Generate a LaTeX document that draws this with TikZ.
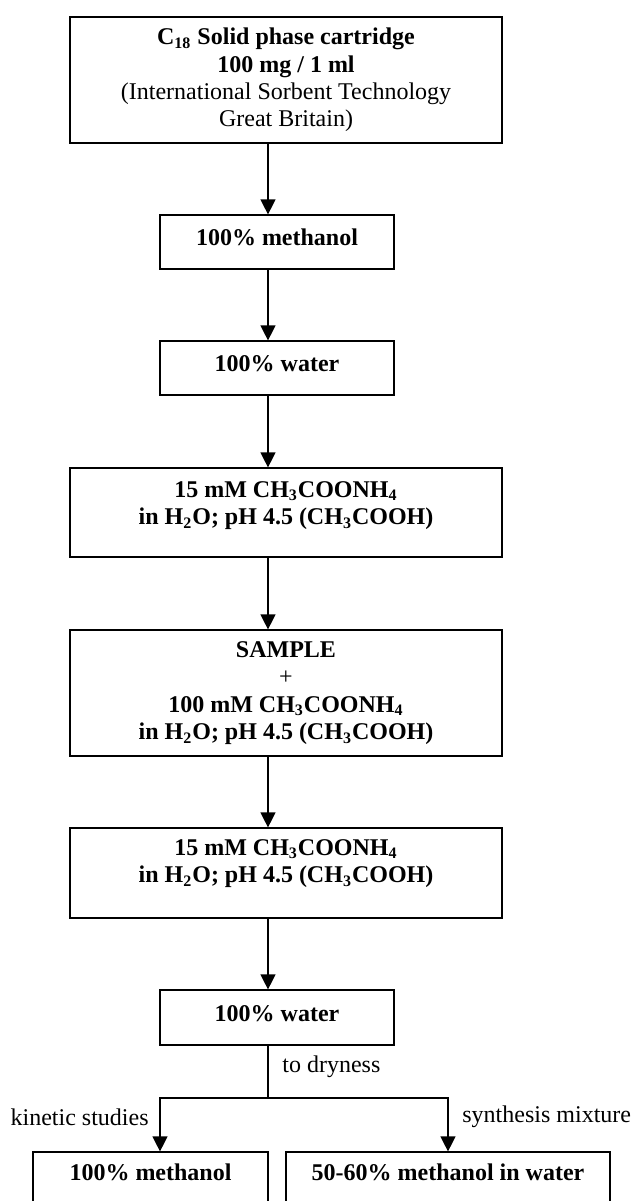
\documentclass[tikz,border=0pt]{standalone}
\usepackage{fontspec}
\setmainfont{Liberation Serif}
\usetikzlibrary{arrows.meta}

% extra depth under the last line, pushes the text up in its box
\newcommand{\lowpad}[1]{\rule[-#1]{0pt}{#1}}

\tikzset{
  box/.style={draw, line width=0.6pt, align=center, inner sep=0pt,
    font=\fontsize{12}{13.7}\selectfont\bfseries},
  wide/.style={box, minimum width=216pt},
  slim/.style={box, minimum width=117pt, minimum height=27pt},
  lbl/.style={inner sep=0pt, font=\fontsize{12}{13.7}\selectfont},
  arr/.style={line width=0.6pt, -{Triangle[width=7.5pt,length=7.5pt]}}
}

\begin{document}
\begin{tikzpicture}[x=0.5pt,y=-0.5pt]
    \useasboundingbox (0,0) rectangle (631,1201);
    \coordinate (spine) at (268,0);

    \node[wide, minimum height=63pt] (b1) at (286,80)
      {C\textsubscript{18} Solid phase cartridge\\100 mg / 1 ml\\
       {\mdseries (International Sorbent Technology}\\{\mdseries Great Britain)}};
    \node[slim] (b2) at (277,242) {100\% methanol\lowpad{4.5pt}};
    \node[slim] (b3) at (277,368) {100\% water\lowpad{4.5pt}};
    \node[wide, minimum height=44.5pt] (b4) at (286,512.5)
      {15 mM CH\textsubscript{3}COONH\textsubscript{4}\\
       in H\textsubscript{2}O; pH 4.5 (CH\textsubscript{3}COOH)\lowpad{9.5pt}};
    \node[wide, minimum height=63pt] (b5) at (286,693)
      {SAMPLE\\{\mdseries +}\\100 mM CH\textsubscript{3}COONH\textsubscript{4}\\
       in H\textsubscript{2}O; pH 4.5 (CH\textsubscript{3}COOH)};
    \node[wide, minimum height=45pt] (b6) at (286,873)
      {15 mM CH\textsubscript{3}COONH\textsubscript{4}\\
       in H\textsubscript{2}O; pH 4.5 (CH\textsubscript{3}COOH)\lowpad{12pt}};
    \node[slim, minimum height=27.5pt] (b7) at (277,1017.5) {100\% water\lowpad{4pt}};
    \node[slim, minimum width=117.5pt] (b8) at (150.5,1179) {100\% methanol\lowpad{7pt}};
    \node[slim, minimum width=162pt] (b9) at (448,1179) {50-60\% methanol in water\lowpad{7pt}};

    \foreach \a/\b in {b1/b2,b2/b3,b3/b4,b4/b5,b5/b6,b6/b7}
      \draw[arr] (\a.south -| spine) -- (\b.north -| spine);

    % split after drying
    \coordinate (fork) at (268,1098);
    \coordinate (kl) at (160,1098);
    \coordinate (kr) at (448,1098);
    \draw[line width=0.6pt] (b7.south -| spine) -- (fork);
    \draw[arr] (fork) -- (kl) -- (b8.north -| kl);
    \draw[arr] (fork) -- (kr) -- (b9.north -| kr);

    \node[lbl, anchor=west] (dry) at (282,1067) {to dryness};
    \node[lbl, anchor=east] (kin) at (149,1117) {kinetic studies};
    \node[lbl, anchor=west] (syn) at (462,1117) {synthesis mixture};
\end{tikzpicture}
\end{document}
